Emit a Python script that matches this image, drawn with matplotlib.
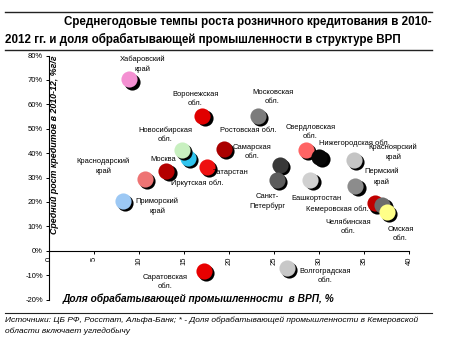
import matplotlib
matplotlib.use("Agg")
import matplotlib.pyplot as plt
from matplotlib.lines import Line2D
from matplotlib.transforms import offset_copy

plt.rcParams['font.family'] = ['Liberation Sans', 'DejaVu Sans']

regions = ['Хабаровский\nкрай', 'Воронежская\nобл.', 'Иркутская обл.', 'Новосибирская\nобл.',
           'Москва', 'Татарстан', 'Краснодарский\nкрай', 'Приморский\nкрай', 'Саратовская\nобл.',
           'Ростовская обл.', 'Московская\nобл.', 'Свердловская\nобл.', 'Нижегородская обл.',
           'Самарская\nобл.', 'Санкт-\nПетербург', 'Башкортостан', 'Красноярский\nкрай',
           'Пермский\nкрай', 'Челябинская\nобл.', 'Кемеровская обл.', 'Омская\nобл.',
           'Волгоградская\nобл.']
manuf_share = [8.9, 17.0, 15.4, 14.7, 13.0, 17.5, 10.6, 8.2, 17.2, 19.4, 23.2, 28.5, 30.0,
               25.6, 25.3, 29.0, 33.8, 34.0, 36.2, 37.0, 37.5, 26.4]
credit_growth = [70.2, 55.3, 37.9, 41.3, 32.8, 34.2, 29.3, 20.5, -8.2, 41.7, 55.3, 41.3, 38.3,
                 35.1, 29.0, 29.0, 37.2, 26.5, 19.4, 18.7, 16.0, -7.2]
colors = ['#f490d2', '#e00000', '#30c4ee', '#c8f0c0', '#b40000', '#ee1010', '#ee7474', '#9cc8f4',
          '#e80000', '#aa0000', '#7c7c7c', '#ff6464', '#080808', '#383838', '#5c5c5c', '#d0d0d0',
          '#c4c4c4', '#8c8c8c', '#c00000', '#6c6c6c', '#ffff88', '#c8c8c8']
# where each label sits (data coords)
label_x = [10.4, 16.2, 16.4, 12.9, 12.7, 20.1, 6.0, 12.0, 12.9, 22.1, 24.8, 29.0, 33.9,
           22.5, 24.2, 29.7, 38.2, 36.9, 33.2, 32.0, 39.0, 30.6]
label_y = [76.5, 62.2, 27.6, 47.6, 37.5, 32.1, 34.7, 18.1, -12.8, 49.4, 63.0, 48.6, 44.0,
           40.5, 20.0, 21.5, 40.2, 30.3, 9.7, 17.0, 6.8, -10.4]

x_ticks = [0, 5, 10, 15, 20, 25, 30, 35, 40]
y_ticks = [-20, -10, 0, 10, 20, 30, 40, 50, 60, 70, 80]

fig = plt.figure(figsize=(4.5, 3.41), dpi=100)
ax = fig.add_axes([0.1096, 0.1217, 0.8, 0.7155])

shadow = offset_copy(ax.transData, fig=fig, x=2.2, y=-2.2, units='dots')
for i in range(len(regions)):
    ax.scatter(manuf_share[i], credit_growth[i], s=135, color='black', transform=shadow,
               zorder=3 + 2 * i, clip_on=False, linewidths=0)
    ax.scatter(manuf_share[i], credit_growth[i], s=135, color=colors[i],
               zorder=4 + 2 * i, clip_on=False, linewidths=0)
    ax.text(label_x[i], label_y[i], regions[i], fontsize=5.4, ha='center', va='center',
            linespacing=1.5, zorder=60)

ax.set_xlim(0, 40)
ax.set_ylim(-20, 80)
ax.spines['top'].set_visible(False)
ax.spines['right'].set_visible(False)
ax.spines['bottom'].set_position(('data', 0))
ax.spines['left'].set_linewidth(0.8)
ax.spines['bottom'].set_linewidth(0.8)
ax.set_xticks(x_ticks)
ax.set_xticklabels([str(t) for t in x_ticks], rotation=90, fontsize=5.5)
ax.set_yticks(y_ticks)
ax.set_yticklabels([f'{t}%' for t in y_ticks], fontsize=5.5)
ax.tick_params(axis='both', length=2.5, width=0.7, pad=2)

fig.text(55 / 450, 1 - 145 / 341, 'Средний рост кредитов в 2010-12, %г/г', rotation=90,
         fontsize=6.4, fontweight='bold', style='italic', ha='center', va='center')
fig.text(63 / 450, 1 - 299 / 341, 'Доля обрабатывающей промышленности  в ВРП, %',
         fontsize=7.3, fontweight='bold', style='italic', ha='left', va='center')

fig.text(432 / 450, 1 - 22 / 341, 'Среднегодовые темпы роста розничного кредитования в 2010-',
         fontsize=8.4, fontweight='bold', ha='right', va='center')
fig.text(5 / 450, 1 - 39 / 341, '2012 гг. и доля обрабатывающей промышленности в структуре ВРП',
         fontsize=8.4, fontweight='bold', ha='left', va='center')
fig.text(5 / 450, 1 - 320 / 341,
         'Источники: ЦБ РФ, Росстат, Альфа-Банк; * - Доля обрабатывающей промышленности в Кемеровской',
         fontsize=6.0, style='italic', ha='left', va='center')
fig.text(5 / 450, 1 - 331 / 341, 'области включает угледобычу',
         fontsize=6.0, style='italic', ha='left', va='center')

for yy, lw in [(12, 1.0), (50, 1.0), (313, 0.8)]:
    fig.add_artist(Line2D([5 / 450, 432 / 450], [1 - yy / 341, 1 - yy / 341],
                          color='#222222', linewidth=lw))

fig.savefig('out.png', dpi=100)
